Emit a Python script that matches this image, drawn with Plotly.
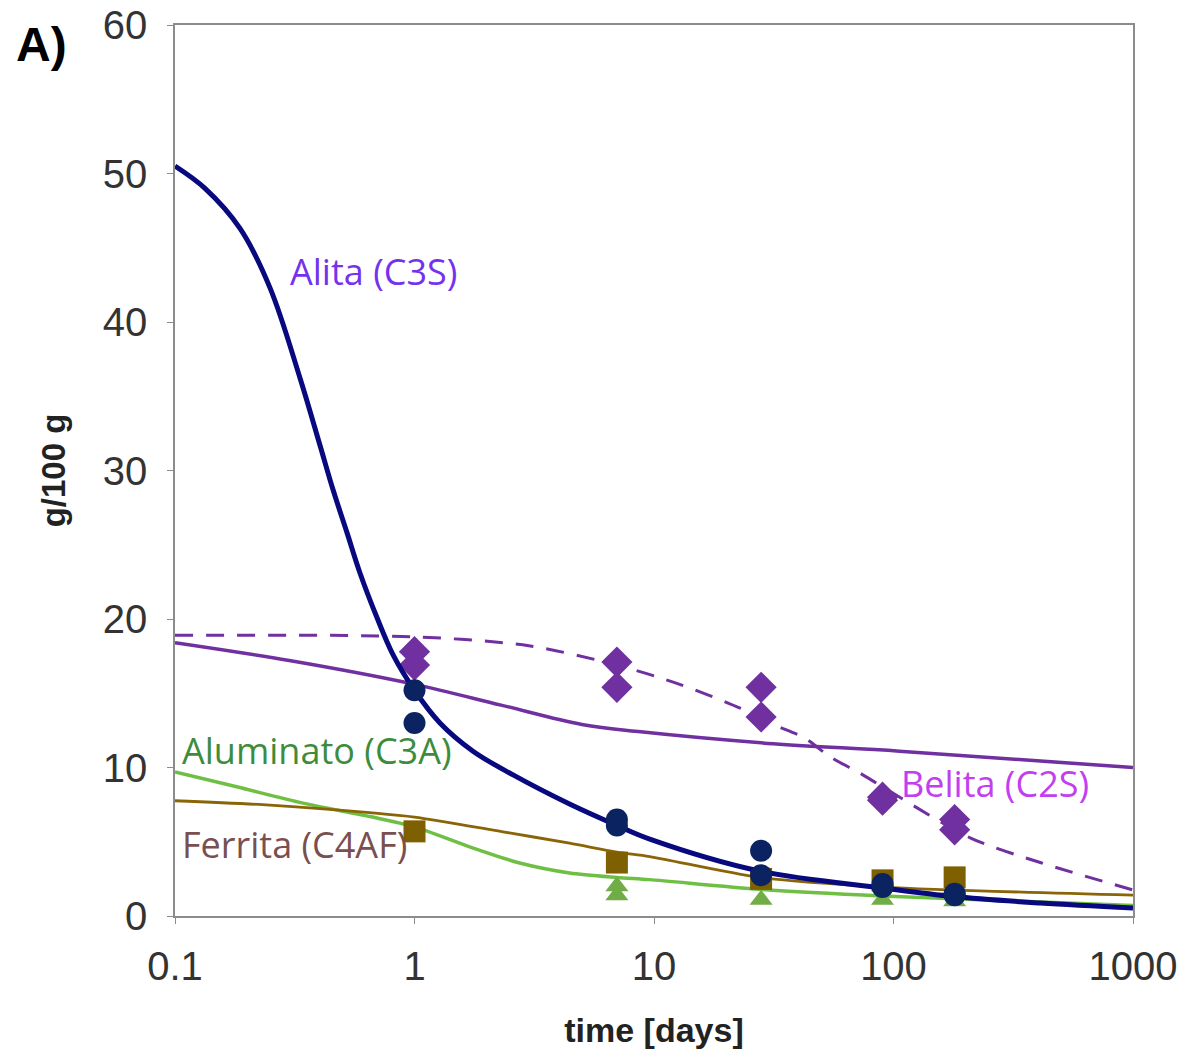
import plotly.graph_objects as go

# ---- measured points (time in days) ----
alita_t = [1, 1, 7, 7, 28, 28, 90, 90, 180, 180]
alita_v = [15.2, 13.0, 6.5, 6.1, 4.4, 2.75, 2.15, 1.95, 1.5, 1.4]

belita_t = [1, 1, 7, 7, 28, 28, 90, 90, 180, 180]
belita_v = [17.8, 16.9, 17.1, 15.4, 15.4, 13.4, 8.0, 7.8, 6.5, 5.8]

ferrita_t = [1, 7, 28, 90, 180]
ferrita_v = [5.7, 3.6, 2.5, 2.4, 2.6]

alum_t = [7, 7, 28, 90, 180]
alum_v = [2.0, 1.4, 1.1, 1.1, 1.0]

# ---- model curves ----
alita_curve_t = [0.1, 0.1334, 0.1868, 0.2493, 0.333, 0.403, 0.457, 0.523, 0.592, 0.697, 0.813, 1,
                 1.277, 1.755, 2.58, 4.44, 7, 9.6, 27.6, 90, 178, 410, 1000]
alita_curve_v = [50.5, 49.0, 46.3, 42.3, 36.2, 31.7, 28.7, 25.8, 23.1, 20.1, 17.6, 15.2,
                 13.0, 11.1, 9.5, 7.54, 6.1, 5.18, 3.03, 1.89, 1.31, 0.875, 0.54]

belita_curve_t = [0.1, 0.3, 1, 2.3, 5, 8.8, 31.5, 106, 1000]
belita_curve_v = [18.4, 17.2, 15.6, 14.2, 12.9, 12.4, 11.6, 11.1, 10.0]

belita_dash_t = [0.1, 1, 3, 7, 12.8, 22.9, 31.5, 42.4, 54.6, 72.8, 90, 210, 410, 1000]
belita_dash_v = [18.9, 18.8, 18.2, 16.9, 15.6, 14.0, 12.9, 12.0, 10.7, 9.6, 8.7, 5.25, 3.6, 1.75]

alum_curve_t = [0.1, 0.181, 0.342, 0.65, 1, 1.7, 2.75, 4.44, 7, 9.6, 27.6, 90, 1000]
alum_curve_v = [9.7, 8.7, 7.6, 6.7, 6.0, 4.66, 3.57, 2.9, 2.6, 2.45, 1.8, 1.35, 0.7]

ferr_curve_t = [0.1, 0.249, 0.65, 1, 2.34, 4.44, 7, 9.6, 27.6, 90, 1000]
ferr_curve_v = [7.76, 7.47, 6.96, 6.66, 5.67, 4.9, 4.3, 4.0, 2.6, 1.95, 1.4]

x_tickvals = [0.1, 1, 10, 100, 1000]
x_ticktext = ["0.1", "1", "10", "100", "1000"]
y_tickvals = [0, 10, 20, 30, 40, 50, 60]

labels = ["Alita (C3S)", "Belita (C2S)", "Aluminato (C3A)", "Ferrita (C4AF)"]

NAVY_LINE = "#08087f"
NAVY_MK = "#0b2360"
PURPLE = "#7030a0"
GREEN_LINE = "#6fbf45"
GREEN_MK = "#70ad47"
BROWN_LINE = "#8a6508"
BROWN_MK = "#7f6000"

fig = go.Figure()

def curve(t, v, color, width, dash="solid", smoothing=1.0):
    fig.add_trace(go.Scatter(x=t, y=v, mode="lines",
                             line=dict(color=color, width=width, dash=dash, shape="spline", smoothing=smoothing),
                             hoverinfo="skip"))

def pts(t, v, color, symbol, size):
    fig.add_trace(go.Scatter(x=t, y=v, mode="markers",
                             marker=dict(color=color, symbol=symbol, size=size, line=dict(width=0))))

curve(belita_dash_t, belita_dash_v, PURPLE, 3, "18px,13px", smoothing=0.8)
curve(belita_curve_t, belita_curve_v, PURPLE, 3.5)
curve(alum_curve_t, alum_curve_v, GREEN_LINE, 3.5, smoothing=0.8)
curve(ferr_curve_t, ferr_curve_v, BROWN_LINE, 2.8, smoothing=0.8)
pts(alum_t, alum_v, GREEN_MK, "triangle-up", 20)
pts(ferrita_t, ferrita_v, BROWN_MK, "square", 22)
pts(belita_t, belita_v, PURPLE, "diamond", 24)
curve(alita_curve_t, alita_curve_v, NAVY_LINE, 5, smoothing=1.0)
pts(alita_t, alita_v, NAVY_MK, "circle", 22)

lab_font = "Open Sans"
def label(text, x, y, color, size=36, family=lab_font):
    fig.add_annotation(text=text, xref="paper", yref="paper", x=x, y=y, xanchor="center", yanchor="middle",
                       showarrow=False, font=dict(family=family, size=size, color=color))

label(labels[0], 0.207, 0.723, "#7432ee")
label(labels[1], 0.856, 0.149, "#c23ff0")
label(labels[2], 0.148, 0.186, "#3d8c3d")
label(labels[3], 0.125, 0.080, "#7a4f4f")
label("<b>A)</b>", -0.139, 0.9776, "black", size=48, family="Liberation Sans")

axis_common = dict(showline=True, linecolor="#8c8c8c", linewidth=1.5, mirror=True, showgrid=False, zeroline=False,
                   ticks="outside", tickcolor="#8c8c8c", ticklen=6, automargin=False, ticklabeloverflow="allow",
                   tickfont=dict(family="Liberation Sans", size=40, color="#333333"))

fig.update_xaxes(type="log", range=[-1, 3], tickvals=x_tickvals, ticktext=x_ticktext, ticklabelstandoff=8,
                 title=dict(text="<b>time [days]</b>", font=dict(family="Liberation Sans", size=34, color="#222"), standoff=38),
                 **axis_common)
fig.update_yaxes(range=[0, 60], tickvals=y_tickvals, ticklabelstandoff=12,
                 title=dict(text="<b>g/100 g</b>", font=dict(family="Liberation Sans", size=33, color="#222"), standoff=27),
                 **axis_common)

fig.update_layout(width=1184, height=1049, margin=dict(l=175, r=51, t=25, b=133),
                  plot_bgcolor="white", paper_bgcolor="white", showlegend=False)

# remove the default page margin so the figure fills the 1184x1049 window exactly
fig.write_html("out.html", config={"displayModeBar": False},
               post_script="document.body.style.margin='0';document.body.style.overflow='hidden';")
